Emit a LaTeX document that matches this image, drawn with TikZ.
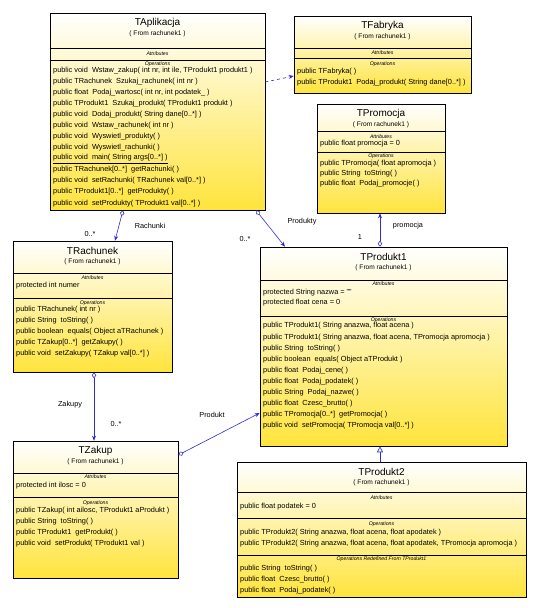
\documentclass[tikz,border=0pt]{standalone}
\usepackage{fontspec}
\setmainfont{Liberation Sans}
\usetikzlibrary{arrows.meta,calc}
\definecolor{umlyellow}{RGB}{255,228,60}
\definecolor{linkblue}{RGB}{45,45,210}

% class box with title and origin line
\newcommand{\umlclass}[6]{%
  \node[umlbox, minimum width={(#4-#2)*1pt}, minimum height={(#5-#3)*1pt}]
    (#1) at ({(#2+#4)/2},{(#3+#5)/2}) {};
  \node[ctitle] (#1-title) at ({(#2+#4)/2},{#3+10}) {#6};
  \node[cfrom] (#1-from) at ({(#2+#4)/2},{#3+20.5}) {( From rachunek1 )};
}
\newcommand{\compsep}[2]{\draw[splitline] (#1.west |- 0,#2) -- (#1.east |- 0,#2);}
\newcommand{\comptag}[4]{\node[ctag] (#1-#2) at (#1.center |- 0,#3) {#4};}
\newcommand{\members}[5]{%
  \foreach \txt [count=\k] in {#5} {
    \node[member] (#1\k) at ({#2},{#3+(\k-1)*#4}) {\txt};
  }
}

\begin{document}
\begin{tikzpicture}[x=1pt, y=-1pt,
  umlbox/.style={draw=black, line width=0.6pt, top color=white, bottom color=umlyellow, inner sep=0pt},
  ctitle/.style={font=\fontsize{10}{12}\selectfont, inner sep=0pt},
  cfrom/.style={font=\fontsize{6.6}{7}\selectfont, inner sep=0pt},
  ctag/.style={font=\fontsize{5.2}{6}\selectfont\itshape, inner sep=0pt},
  member/.style={font=\fontsize{7.35}{8}\selectfont, anchor=west, inner sep=0pt},
  splitline/.style={draw=black, line width=0.5pt},
  assoc/.style={draw=linkblue, line width=0.6pt},
  lbl/.style={font=\fontsize{7.3}{8}\selectfont, inner sep=0pt},
  agg/.style={assoc, {Diamond[open, length=6pt, width=4.5pt]}-{Stealth[length=5pt, width=4pt]}}
]
\useasboundingbox[fill=white] (0,0) rectangle (534,608);

% TAplikacja
\umlclass{apl}{50}{13}{265}{210}{TAplikacja}
\compsep{apl}{48}
\comptag{apl}{attr}{54}{Attributes}
\compsep{apl}{60}
\comptag{apl}{ops}{64}{Operations}
\members{apl-o}{53}{70.5}{11.05}{
  {public void~ Wstaw\_zakup( int nr, int ile, TProdukt1 produkt1 )},
  {public TRachunek~ Szukaj\_rachunek( int nr )},
  {public float~ Podaj\_wartosc( int nr, int podatek\_ )},
  {public TProdukt1~ Szukaj\_produkt( TProdukt1 produkt )},
  {public void~ Dodaj\_produkt( String dane[0..*] )},
  {public void~ Wstaw\_rachunek( int nr )},
  {public void~ Wyswietl\_produkty( )},
  {public void~ Wyswietl\_rachunki( )},
  {\underline{public void~ main( String args[0..*] )}},
  {public TRachunek[0..*]~ getRachunki( )},
  {public void~ setRachunki( TRachunek val[0..*] )},
  {public TProdukt1[0..*]~ getProdukty( )},
  {public void~ setProdukty( TProdukt1 val[0..*] )}}

% TFabryka
\umlclass{fab}{294}{16}{471}{93}{TFabryka}
\compsep{fab}{48}
\comptag{fab}{attr}{53}{Attributes}
\compsep{fab}{58}
\comptag{fab}{ops}{64}{Operations}
\members{fab-o}{297}{72}{10.5}{
  {public TFabryka( )},
  {public TProdukt1~ Podaj\_produkt( String dane[0..*] )}}

% TPromocja
\umlclass{prom}{317}{104}{445}{213}{TPromocja}
\compsep{prom}{131}
\comptag{prom}{attr}{136.5}{Attributes}
\node[member] (prom-a1) at (320,144) {public float promocja = 0};
\compsep{prom}{152}
\comptag{prom}{ops}{156.5}{Operations}
\members{prom-o}{320}{164}{9.6}{
  {public TPromocja( float apromocja )},
  {public String~ toString( )},
  {public float~ Podaj\_promocje( )}}

% TRachunek
\umlclass{rach}{13}{241}{172}{372}{TRachunek}
\compsep{rach}{273}
\comptag{rach}{attr}{278}{Attributes}
\node[member] (rach-a1) at (16,286) {protected int numer};
\compsep{rach}{298}
\comptag{rach}{ops}{303}{Operations}
\members{rach-o}{16}{310}{11}{
  {public TRachunek( int nr )},
  {public String~ toString( )},
  {public boolean~ equals( Object aTRachunek )},
  {public TZakup[0..*]~ getZakupy( )},
  {public void~ setZakupy( TZakup val[0..*] )}}

% TProdukt1
\umlclass{prod1}{260}{247}{507}{446}{TProdukt1}
\compsep{prod1}{280}
\comptag{prod1}{attr}{284}{Attributes}
\members{prod1-a}{263}{293}{10}{
  {protected String nazwa = ""},
  {protected float cena = 0}}
\compsep{prod1}{316}
\comptag{prod1}{ops}{320}{Operations}
\members{prod1-o}{263}{326}{11.1}{
  {public TProdukt1( String anazwa, float acena )},
  {public TProdukt1( String anazwa, float acena, TPromocja apromocja )},
  {public String~ toString( )},
  {public boolean~ equals( Object aTProdukt )},
  {public float~ Podaj\_cene( )},
  {public float~ Podaj\_podatek( )},
  {public String~ Podaj\_nazwe( )},
  {public float~ Czesc\_brutto( )},
  {public TPromocja[0..*]~ getPromocja( )},
  {public void~ setPromocja( TPromocja val[0..*] )}}

% TZakup
\umlclass{zak}{13}{441}{178}{578}{TZakup}
\compsep{zak}{473}
\comptag{zak}{attr}{477}{Attributes}
\node[member] (zak-a1) at (16,486) {protected int ilosc = 0};
\compsep{zak}{497}
\comptag{zak}{ops}{503}{Operations}
\members{zak-o}{16}{511}{10.8}{
  {public TZakup( int ailosc, TProdukt1 aProdukt )},
  {public String~ toString( )},
  {public TProdukt1~ getProdukt( )},
  {public void~ setProdukt( TProdukt1 val )}}

% TProdukt2
\umlclass{prod2}{237}{462}{526}{597}{TProdukt2}
\compsep{prod2}{492}
\comptag{prod2}{attr}{498}{Attributes}
\node[member] (prod2-a1) at (240,507) {public float podatek = 0};
\compsep{prod2}{518}
\comptag{prod2}{ops}{524}{Operations}
\members{prod2-o}{240}{533}{11}{
  {public TProdukt2( String anazwa, float acena, float apodatek )},
  {public TProdukt2( String anazwa, float acena, float apodatek, TPromocja apromocja )}}
\compsep{prod2}{555}
\comptag{prod2}{redef}{559}{Operations Redefined From TProdukt1}
\members{prod2-r}{240}{569}{11}{
  {public String~ toString( )},
  {public float~ Czesc\_brutto( )},
  {public float~ Podaj\_podatek( )}}

% connectors
\draw[assoc, dashed, -{Stealth[length=5pt, width=4pt]}] (apl.east |- 0,82) -- (fab.west |- 0,76);
\draw[agg] (123,0 |- apl.south) -- (115,0 |- rach.north);
\draw[agg] (256,0 |- apl.south) -- (285,0 |- prod1.north);
\draw[agg] (380,0 |- prod1.north) -- (380,0 |- prom.south);
\draw[agg] (94,0 |- rach.south) -- (94,0 |- zak.north);
\draw[agg] (zak.east |- 0,455) -- (prod1.west |- 0,413);
\draw[assoc, -{Triangle[open, length=6pt, width=6pt]}] (380,0 |- prod2.north) -- (380,0 |- prod1.south);

% role labels
\node[lbl] (lRach) at (150,226) {Rachunki};
\node[lbl] (mRach) at (90,234) {0..*};
\node[lbl] (lProds) at (302,222) {Produkty};
\node[lbl] (mProds) at (245,239) {0..*};
\node[lbl] (lProm) at (408,226) {promocja};
\node[lbl] (mProm) at (360,237) {1};
\node[lbl] (lZak) at (70,405) {Zakupy};
\node[lbl] (mZak) at (116,424) {0..*};
\node[lbl] (lProd) at (212,415) {Produkt};
\end{tikzpicture}
\end{document}
